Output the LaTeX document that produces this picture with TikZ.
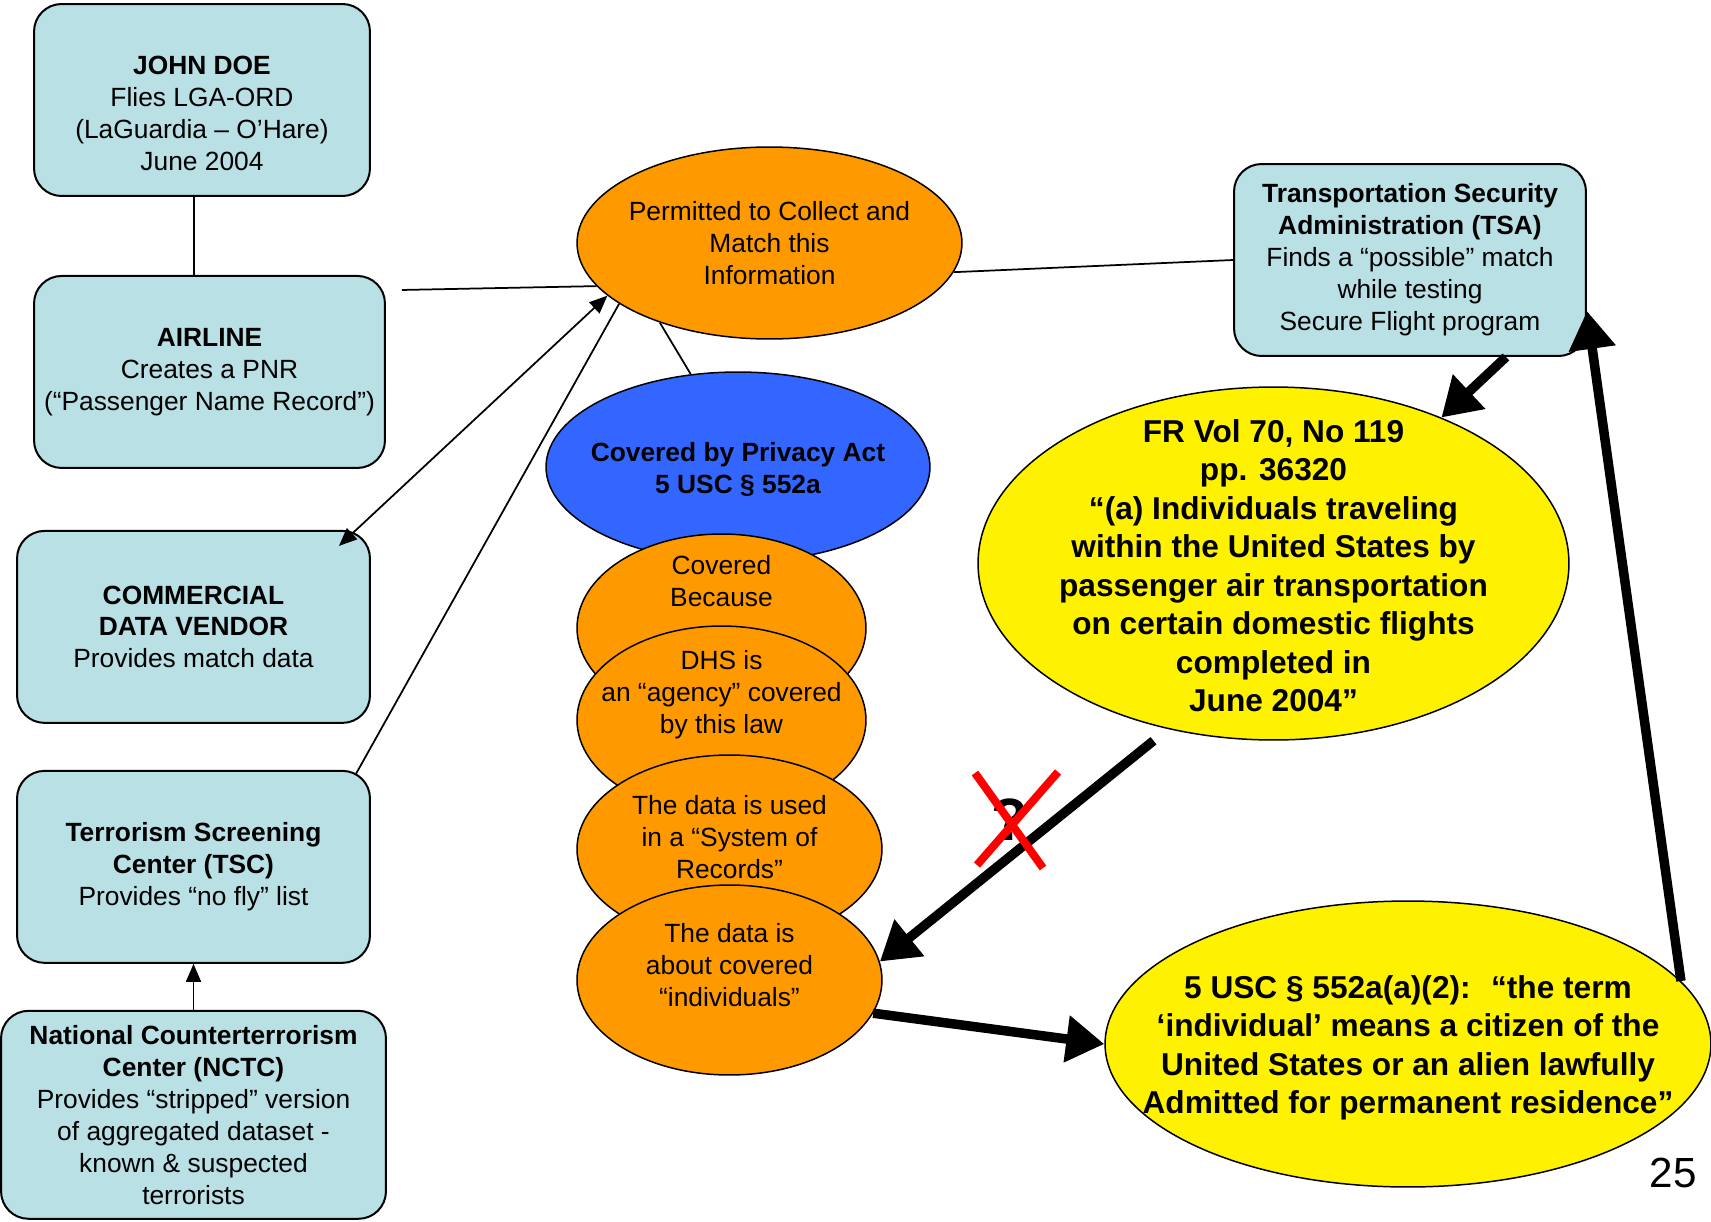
\documentclass[tikz,border=0pt]{standalone}
\usepackage{fontspec}
\setmainfont{Liberation Sans}
\usetikzlibrary{positioning, shapes.geometric, arrows.meta, calc}
\definecolor{boxblue}{RGB}{185,224,228}
\definecolor{ovalorange}{RGB}{255,153,0}
\definecolor{ovalblue}{RGB}{51,102,255}

\begin{document}
\begin{tikzpicture}[x=0.02cm, y=-0.02cm,
	box/.style={draw, line width=0.04cm, fill=boxblue, rounded corners=0.55cm, align=center, inner sep=0pt, minimum height=3.84cm, font=\fontsize{15}{18.2}\selectfont},
	oval/.style={draw, ellipse, line width=0.03cm, inner sep=0pt},
	txt/.style={align=center, font=\fontsize{15}{18.2}\selectfont},
	bigtxt/.style={align=center, font=\fontsize{18}{21.9}\selectfont\bfseries},
	link/.style={line width=0.035cm},
	onehead/.style={-{Triangle[length=0.36cm,width=0.3cm]}},
	twohead/.style={{Triangle[length=0.36cm,width=0.3cm]}-{Triangle[length=0.36cm,width=0.3cm]}},
	fat/.style={line width=0.19cm, -{Triangle[length=0.76cm,width=0.9cm]}},
	cross/.style={red, line width=0.16cm}]
					\useasboundingbox (0,0) rectangle (1711,1221);

					% left column
					\node[box, minimum width=6.72cm, label={[txt, yshift=-0.26cm]center:{\textbf{JOHN DOE}\\Flies LGA-ORD\\(LaGuardia – O’Hare)\\June 2004}}] (john) at (202,100) {};
					\node[box, minimum width=7.02cm, below=1.56cm of john, xshift=0.15cm] (air) {\textbf{AIRLINE}\\Creates a PNR\\(“Passenger Name Record”)};
					\node[box, minimum width=7.06cm, below=1.22cm of air, xshift=-0.32cm] (cdv) {\textbf{COMMERCIAL}\\\textbf{DATA VENDOR}\\Provides match data};
					\node[box, minimum width=7.06cm, below=0.92cm of cdv] (tsc) {\textbf{Terrorism Screening}\\\textbf{Center (TSC)}\\Provides “no fly” list};
					\node[box, minimum width=7.7cm, minimum height=4.16cm, below=0.92cm of tsc] (nctc) {\textbf{National Counterterrorism}\\\textbf{Center (NCTC)}\\Provides “stripped” version\\of aggregated dataset -\\known \& suspected\\terrorists};
					\node[box, minimum width=7.04cm] (tsa) at (1410,260) {\textbf{Transportation Security}\\\textbf{Administration (TSA)}\\Finds a “possible” match\\while testing\\Secure Flight program};

					% middle column
					\node[oval, fill=ovalorange, minimum width=7.7cm, minimum height=3.84cm, label={[txt]center:{Permitted to Collect and\\Match this\\Information}}] (perm) at (769.5,243) {};
					\node[oval, fill=ovalblue, minimum width=7.68cm, minimum height=3.8cm, label={[txt, yshift=-0.05cm, font=\fontsize{15}{18.2}\selectfont\bfseries]center:{Covered by Privacy Act\\5 USC § 552a}}] (privacy) at (738,467) {};
					\node[oval, fill=ovalorange, minimum width=5.78cm, minimum height=3.76cm, label={[txt, yshift=0.94cm]center:{Covered\\Because}}] (because) at (721.5,628) {};
					\node[oval, fill=ovalorange, minimum width=5.78cm, minimum height=3.76cm, label={[txt, yshift=0.5cm]center:{DHS is\\an “agency” covered\\by this law}}] (agency) at (721.5,720) {};
					\node[oval, fill=ovalorange, minimum width=6.1cm, minimum height=3.76cm, label={[txt, yshift=0.24cm]center:{The data is used\\in a “System of\\Records”}}] (records) at (729.5,849) {};
					\node[oval, fill=ovalorange, minimum width=6.1cm, minimum height=3.8cm, label={[txt, yshift=0.3cm]center:{The data is\\about covered\\“individuals”}}] (about) at (729.5,980) {};

					% right column
					\node[oval, fill=yellow, minimum width=11.82cm, minimum height=7.06cm, label={[bigtxt, yshift=-0.04cm]center:{FR Vol 70, No 119\\pp. 36320\\“(a) Individuals traveling\\within the United States by\\passenger air transportation\\on certain domestic flights\\completed in\\June 2004”}}] (fr) at (1273.5,563.5) {};
					\node[oval, fill=yellow, minimum width=12.12cm, minimum height=5.72cm, label={[bigtxt, yshift=-0.08cm]center:{5 USC § 552a(a)(2):~ “the term\\‘individual’ means a citizen of the\\United States or an alien lawfully\\Admitted for permanent residence”}}] (usc) at (1408,1044) {};

					\node[font=\fontsize{34}{34}\selectfont\bfseries, inner sep=0pt] (qm) at (1010,820) {?};
					\node[font=\fontsize{24}{24}\selectfont, inner sep=0pt] (page) at (1673,1173) {25};

					\coordinate (jd) at ([xshift=-0.16cm]john.south);
					\draw[link] (jd) -- (jd |- air.north);
					\draw[link] ([shift={(16,15)}]air.north east) -- (perm.194);
					\draw[link, twohead] ([shift={(-32,16)}]cdv.north east) -- (perm.198);
					\draw[link] ([shift={(-15,4)}]tsc.north east) -- (perm.202);
					\draw[link] (perm.216) -- (privacy.117);
					\draw[link] (perm.-9) -- (tsa.west);
					\draw[link, onehead] (nctc.north) -- (tsc.south);

					\draw[fat] ([shift={(96,0)}]tsa.south) -- (fr.41);
					\draw[fat] ([shift={(-120,0)}]fr.south) -- (about.7);
					\draw[fat] (about.-13) -- (usc.west);
					\draw[fat] (usc.13) -- ([shift={(0,51)}]tsa.east);

					\draw[cross] ($(qm)+(-35,-47)$) -- ($(qm)+(33,48)$);
					\draw[cross] ($(qm)+(48,-48)$) -- ($(qm)+(-33,45)$);
				\end{tikzpicture}
\end{document}
